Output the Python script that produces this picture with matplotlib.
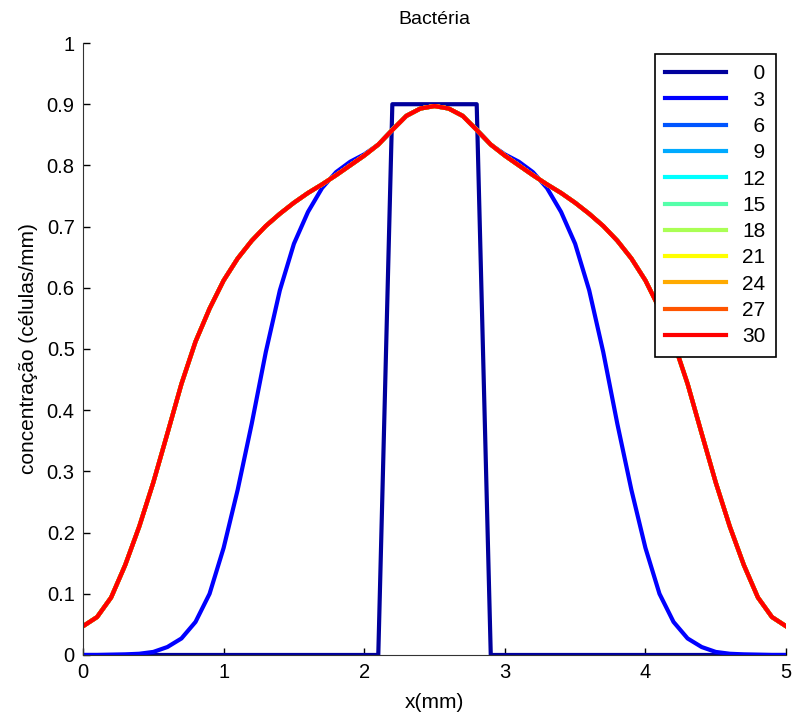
import numpy as np
import matplotlib
matplotlib.use('Agg')
import matplotlib.pyplot as plt

plt.rcParams['font.family'] = ['Liberation Sans', 'DejaVu Sans']

# spatial grid (mm)
x = np.round(np.arange(0, 5.01, 0.1), 2)

# output times
times = [0, 3, 6, 9, 12, 15, 18, 21, 24, 27, 30]

# initial condition: block of bacteria in the middle
c0 = [0.0] * 22 + [0.9] * 7 + [0.0] * 22

# profile at t=3, x = 0 .. 2.5 (symmetric about 2.5)
c3_half = [0.0, 0.0, 0.0005, 0.001, 0.002, 0.005, 0.013, 0.027, 0.054, 0.100,
           0.175, 0.270, 0.378, 0.495, 0.596, 0.672, 0.724, 0.763, 0.789, 0.806,
           0.818, 0.834, 0.858, 0.881, 0.893, 0.897]

# quasi-steady profile reached from t=6 onward, x = 0 .. 2.5
cs_half = [0.047, 0.062, 0.094, 0.147, 0.210, 0.282, 0.362, 0.443, 0.512, 0.566,
           0.612, 0.648, 0.677, 0.701, 0.721, 0.739, 0.755, 0.769, 0.784, 0.800,
           0.816, 0.834, 0.858, 0.881, 0.893, 0.897]

colors = ['#00009c', '#0000ff', '#0055ff', '#00aaff', '#00ffff', '#55ffaa',
          '#aaff55', '#ffff00', '#ffaa00', '#ff5500', '#ff0000']


def mirror(half):
    return half + half[-2::-1]


profiles = [c0, mirror(c3_half)] + [mirror(cs_half)] * 9

fig = plt.figure(figsize=(7.93, 7.17), dpi=100)
ax = fig.add_axes([0.1047, 0.0865, 0.8865, 0.8535])

for t, c, col in zip(times, profiles, colors):
    ax.plot(x, c, color=col, lw=3, label=f'{t:>2d}'.replace(' ', '  '))

ax.set_xlim(0, 5)
ax.set_ylim(0, 1)
ax.set_xticks([0, 1, 2, 3, 4, 5])
ax.set_yticks(np.round(np.arange(0, 1.01, 0.1), 1))
ax.set_yticklabels(['0', '0.1', '0.2', '0.3', '0.4', '0.5', '0.6', '0.7', '0.8', '0.9', '1'])
ax.tick_params(direction='in', length=5, width=1, labelsize=14.5, colors='black', pad=6)
for s in ['top', 'right']:
    ax.spines[s].set_visible(False)
for s in ['left', 'bottom']:
    ax.spines[s].set_color('#333333')

ax.set_title('Bactéria', fontsize=14, pad=14)
ax.set_xlabel('x(mm)', fontsize=15, labelpad=8)
ax.set_ylabel('concentração (células/mm)', fontsize=15, labelpad=6)

leg = ax.legend(loc='upper right', bbox_to_anchor=(0.9858, 0.982), fontsize=15,
                handlelength=2.9, handletextpad=0.8, labelspacing=0.35,
                borderpad=0.5, borderaxespad=0, fancybox=False, framealpha=1,
                edgecolor='black')
leg.get_frame().set_linewidth(1.2)

fig.savefig('out.png', dpi=100)
